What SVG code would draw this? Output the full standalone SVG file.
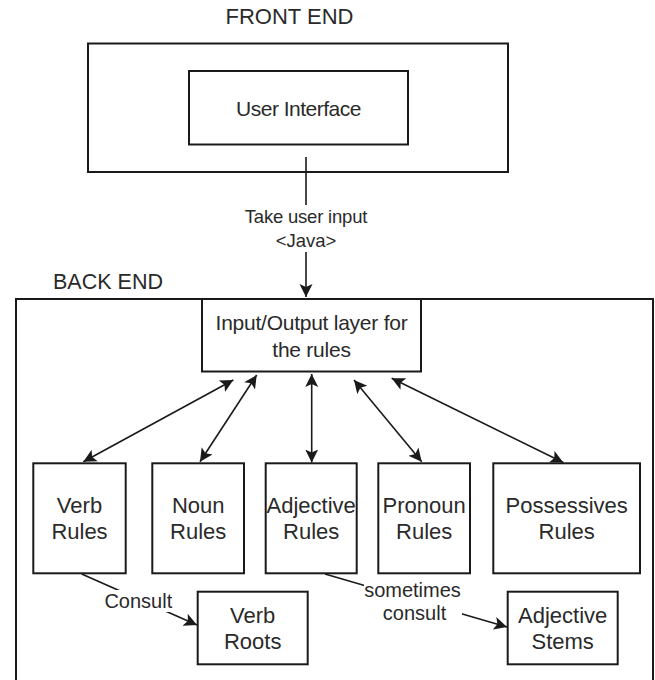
<svg xmlns="http://www.w3.org/2000/svg" width="655" height="680" viewBox="0 0 655 680">
  <defs>
    <style>
      .box { fill: #ffffff; stroke: #1a1a1a; stroke-width: 2; }
      .frame { fill: none; stroke: #1a1a1a; stroke-width: 2; }
      .edge { fill: none; stroke: #1a1a1a; stroke-width: 1.6; }
      .lbl { font-family: "Liberation Sans", Arial, sans-serif; fill: #2a2a2a; text-anchor: middle; }
      .node { font-size: 22px; }
      .title { font-size: 22px; }
      .elbl { font-size: 20px; }
      .lblbg { fill: #ffffff; stroke: none; }
    </style>
    <marker id="arr" viewBox="-13 -7 14 14" refX="0" refY="0" markerWidth="14" markerHeight="14" markerUnits="userSpaceOnUse" orient="auto-start-reverse">
      <path d="M-13,-6.5 L0,0 L-13,6.5 L-10,0 Z" fill="#1a1a1a"/>
    </marker>
  </defs>
  <rect width="655" height="680" fill="#ffffff"/>

  <!-- Containers -->
  <g id="front-end">
    <text class="lbl title" x="289.5" y="24">FRONT END</text>
    <rect class="frame" x="88" y="43.5" width="420" height="128.5"/>
  </g>
  <g id="back-end">
    <text class="lbl title" x="108" y="289" style="font-size:21.5px">BACK END</text>
    <rect class="frame" x="16" y="299" width="637" height="395"/>
  </g>

  <!-- Connectors -->
  <g id="connectors">
    <path class="edge" d="M306,157 L306,297" marker-end="url(#arr)"/>
    <path class="edge" d="M233.3,380 L83.3,461.7" marker-start="url(#arr)" marker-end="url(#arr)"/>
    <path class="edge" d="M256.7,375 L200,461.7" marker-start="url(#arr)" marker-end="url(#arr)"/>
    <path class="edge" d="M311.7,374 L311.7,462.5" marker-start="url(#arr)" marker-end="url(#arr)"/>
    <path class="edge" d="M354,380 L421.7,461.7" marker-start="url(#arr)" marker-end="url(#arr)"/>
    <path class="edge" d="M391.7,378.3 L563.3,462.5" marker-start="url(#arr)" marker-end="url(#arr)"/>
    <path class="edge" d="M81.7,574 L197,625" marker-end="url(#arr)"/>
    <path class="edge" d="M325,574 L507,627" marker-end="url(#arr)"/>

    <g id="label-take-input">
      <rect class="lblbg" x="237" y="205" width="138" height="47"/>
      <text class="lbl elbl" x="306" y="223.3" style="font-size:18.5px;letter-spacing:-0.2px">Take user input</text>
      <text class="lbl elbl" x="306" y="246.5" style="font-size:18.5px">&lt;Java&gt;</text>
    </g>
    <g id="label-consult">
      <rect class="lblbg" x="104" y="590" width="68" height="22"/>
      <text class="lbl elbl" x="138.3" y="608.3">Consult</text>
    </g>
    <g id="label-sometimes">
      <rect class="lblbg" x="364" y="584" width="98" height="43"/>
      <text class="lbl elbl" x="412.5" y="596.7">sometimes</text>
      <text class="lbl elbl" x="414.5" y="620">consult</text>
    </g>
  </g>

  <!-- Nodes -->
  <g id="user-interface">
    <rect class="box" x="189" y="71" width="219" height="73.5"/>
    <text class="lbl node" x="298.5" y="115.7" style="font-size:21px;letter-spacing:-0.5px">User Interface</text>
  </g>
  <g id="io-layer">
    <rect class="box" x="202" y="299" width="219" height="72.5"/>
    <text class="lbl node" x="311.5" y="330" style="font-size:21px;letter-spacing:-0.25px">Input/Output layer for</text>
    <text class="lbl node" x="311.5" y="356.7" style="font-size:21px;letter-spacing:-0.25px">the rules</text>
  </g>
  <g id="verb-rules">
    <rect class="box" x="33.3" y="463.3" width="92.4" height="110"/>
    <text class="lbl node" x="79.5" y="513.3">Verb</text>
    <text class="lbl node" x="79.5" y="539.3">Rules</text>
  </g>
  <g id="noun-rules">
    <rect class="box" x="152.3" y="463.3" width="91.7" height="110"/>
    <text class="lbl node" x="198.2" y="513.3">Noun</text>
    <text class="lbl node" x="198.2" y="539.3">Rules</text>
  </g>
  <g id="adjective-rules">
    <rect class="box" x="265.7" y="463.3" width="91" height="110"/>
    <text class="lbl node" x="311.2" y="513.3">Adjective</text>
    <text class="lbl node" x="311.2" y="539.3">Rules</text>
  </g>
  <g id="pronoun-rules">
    <rect class="box" x="378.3" y="463.3" width="91.7" height="110"/>
    <text class="lbl node" x="424.2" y="513.3">Pronoun</text>
    <text class="lbl node" x="424.2" y="539.3">Rules</text>
  </g>
  <g id="possessives-rules">
    <rect class="box" x="493.3" y="463.3" width="146.7" height="110"/>
    <text class="lbl node" x="566.7" y="513.3">Possessives</text>
    <text class="lbl node" x="566.7" y="539.3">Rules</text>
  </g>
  <g id="verb-roots">
    <rect class="box" x="197.7" y="591.7" width="110" height="72.6"/>
    <text class="lbl node" x="252.7" y="623.3">Verb</text>
    <text class="lbl node" x="252.7" y="649">Roots</text>
  </g>
  <g id="adjective-stems">
    <rect class="box" x="507.7" y="591.7" width="110" height="72.6"/>
    <text class="lbl node" x="562.7" y="623.3">Adjective</text>
    <text class="lbl node" x="562.7" y="649">Stems</text>
  </g>
</svg>
